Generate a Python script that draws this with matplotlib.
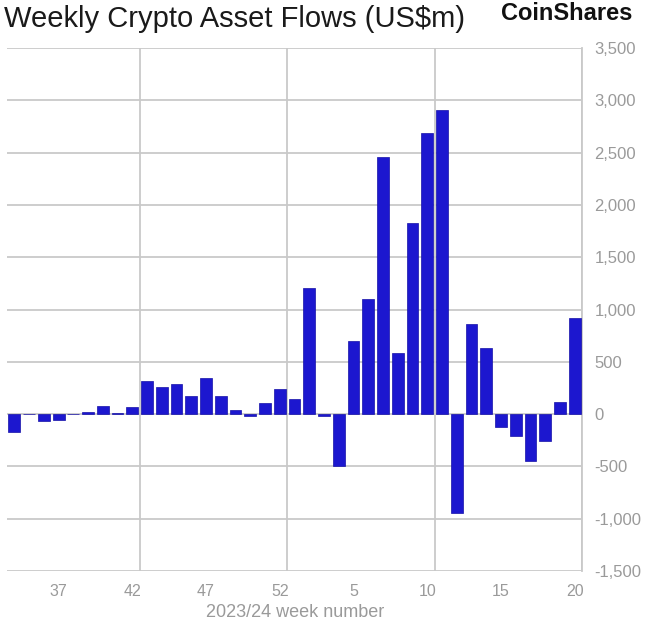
import numpy as np
import matplotlib
matplotlib.use("Agg")
from matplotlib import pyplot as plt

# Wochen 34..52 (2023) und 1..20 (2024)
weeks = list(range(34, 53)) + list(range(1, 21))
flows = [-170, 0, -65, -55, 5, 20, 75, 10, 65, 320, 255, 287, 172, 344, 172, 42, -15, 105, 239,
         145, 1210, -20, -495, 700, 1105, 2460, 585, 1829, 2687, 2910, -950, 858, 635,
         -125, -210, -445, -255, 115, 920]
y_ticks = [-1500, -1000, -500, 0, 500, 1000, 1500, 2000, 2500, 3000, 3500]
label_every = 5
grid_every = 10

grey = "#c9c9c9"
text_grey = "#9a9a9a"
bar_color = "#1c17cf"

plt.rcParams["font.family"] = ["Liberation Sans", "DejaVu Sans"]

fig = plt.figure(figsize=(6.45, 6.25), dpi=100)
ax = fig.add_axes([7 / 645, 1 - 571 / 625, 575 / 645, 523 / 625])

x = np.arange(len(weeks))
ax.bar(x, flows, width=0.8, color=bar_color, edgecolor="#1510a8", linewidth=0.5, zorder=3)

ax.set_xlim(-0.5, len(weeks) - 0.5)
ax.set_ylim(y_ticks[0], y_ticks[-1])

# horizontale Gitterlinien
for v in y_ticks:
    ax.axhline(v, color=grey, lw=1.3, zorder=1)
# vertikale Gitterlinien an Kategoriegrenzen
for b in np.arange(8.5, len(weeks), grid_every):
    ax.axvline(b, color=grey, lw=1.3, zorder=1)

for s in ["top", "left", "bottom"]:
    ax.spines[s].set_visible(False)
ax.spines["right"].set_color(grey)
ax.spines["right"].set_linewidth(1.3)

tick_pos = x[3::label_every]
ax.set_xticks(tick_pos)
ax.set_xticklabels([str(weeks[i]) for i in tick_pos])
ax.set_yticks(y_ticks)
ax.set_yticklabels([f"{v:,}" for v in y_ticks])
ax.yaxis.tick_right()
ax.tick_params(axis="both", length=0, colors=text_grey, labelsize=11.5)
ax.tick_params(axis="y", labelsize=12, pad=9)
ax.tick_params(axis="x", pad=9)

ax.set_xlabel("2023/24 week number", color=text_grey, fontsize=13, labelpad=4)
ax.xaxis.set_label_coords(288 / 575, -0.064)

fig.text(4 / 645, 1 - 19 / 625, "Weekly Crypto Asset Flows (US$m)", fontsize=21,
         color="#1a1a1a", va="center", ha="left")
fig.text(632 / 645, 1 - 13 / 625, "CoinShares", fontsize=17, fontweight="bold",
         color="#111111", va="center", ha="right")

fig.savefig("out.png", dpi=100, facecolor="white")
